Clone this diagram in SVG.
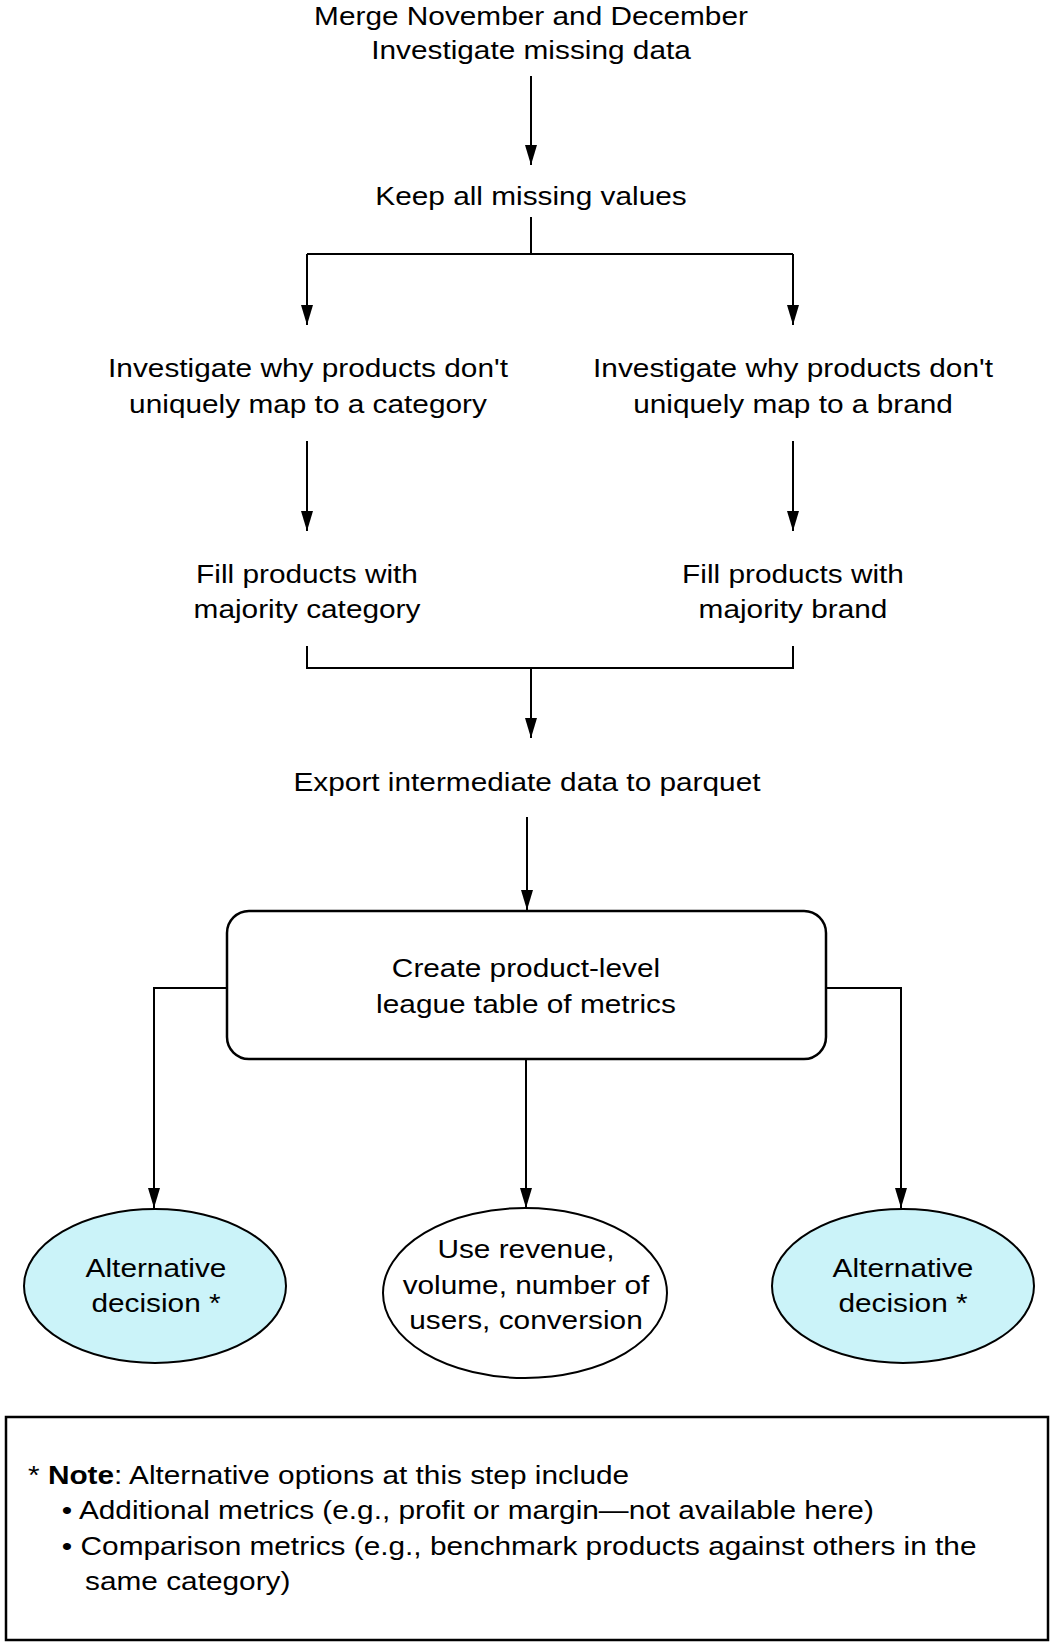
<svg xmlns="http://www.w3.org/2000/svg" width="1054" height="1646" viewBox="0 0 1054 1646">
<defs>
<style>
.t{font-family:"Liberation Sans",Arial,Helvetica,sans-serif;font-size:26.5px;fill:#000;text-anchor:middle}
.n{font-family:"Liberation Sans",Arial,Helvetica,sans-serif;font-size:26.5px;fill:#000;text-anchor:start}
.c{fill:none;stroke:#000;stroke-width:2}
.alt{fill:#CBF3F9;stroke:#000;stroke-width:2}
.plain{fill:#fff;stroke:#000;stroke-width:2}
</style>
<marker id="ah" markerUnits="userSpaceOnUse" markerWidth="20" markerHeight="12" refX="20" refY="6" orient="auto">
<path d="M0,0 L20,6 L0,12 z" fill="#000"/>
</marker>
</defs>
<rect width="1054" height="1646" fill="#fff"/>

<g id="connectors">
<path class="c" d="M531,76 V165" marker-end="url(#ah)"/>
<path class="c" d="M531,217 V254"/>
<path class="c" d="M307,254 H793"/>
<path class="c" d="M307,254 V325" marker-end="url(#ah)"/>
<path class="c" d="M793,254 V325" marker-end="url(#ah)"/>
<path class="c" d="M307,441 V531" marker-end="url(#ah)"/>
<path class="c" d="M793,441 V531" marker-end="url(#ah)"/>
<path class="c" d="M307,646 V668 H793 V646"/>
<path class="c" d="M531,668 V738" marker-end="url(#ah)"/>
<path class="c" d="M527,817 V910" marker-end="url(#ah)"/>
<path class="c" d="M227,988 H154 V1208" marker-end="url(#ah)"/>
<path class="c" d="M526,1059 V1208" marker-end="url(#ah)"/>
<path class="c" d="M826,988 H901 V1208" marker-end="url(#ah)"/>
</g>

<g id="merge">
<text class="t" transform="translate(531 0) scale(1.125 1)"><tspan x="0" y="25">Merge November and December</tspan><tspan x="0" y="59">Investigate missing data</tspan></text>
</g>

<g id="keep">
<text class="t" transform="translate(531 0) scale(1.125 1)" x="0" y="205">Keep all missing values</text>
</g>

<g id="inv-category">
<text class="t" transform="translate(308 0) scale(1.125 1)"><tspan x="0" y="377">Investigate why products don't</tspan><tspan x="0" y="413">uniquely map to a category</tspan></text>
</g>

<g id="inv-brand">
<text class="t" transform="translate(793 0) scale(1.125 1)"><tspan x="0" y="377">Investigate why products don't</tspan><tspan x="0" y="413">uniquely map to a brand</tspan></text>
</g>

<g id="fill-category">
<text class="t" transform="translate(307 0) scale(1.125 1)"><tspan x="0" y="583">Fill products with</tspan><tspan x="0" y="618">majority category</tspan></text>
</g>

<g id="fill-brand">
<text class="t" transform="translate(793 0) scale(1.125 1)"><tspan x="0" y="583">Fill products with</tspan><tspan x="0" y="618">majority brand</tspan></text>
</g>

<g id="export">
<text class="t" transform="translate(527 0) scale(1.125 1)" x="0" y="791">Export intermediate data to parquet</text>
</g>

<g id="league">
<rect x="227" y="911" width="599" height="148" rx="22" ry="22" fill="#fff" stroke="#000" stroke-width="2.5"/>
<text class="t" transform="translate(526 0) scale(1.125 1)"><tspan x="0" y="977">Create product-level</tspan><tspan x="0" y="1013">league table of metrics</tspan></text>
</g>

<g id="alt-left">
<ellipse class="alt" cx="155" cy="1286" rx="131" ry="77"/>
<text class="t" transform="translate(156 0) scale(1.125 1)"><tspan x="0" y="1277">Alternative</tspan><tspan x="0" y="1312">decision *</tspan></text>
</g>

<g id="use-metrics">
<ellipse class="plain" cx="525" cy="1293" rx="142" ry="85"/>
<text class="t" transform="translate(526 0) scale(1.125 1)"><tspan x="0" y="1258">Use revenue,</tspan><tspan x="0" y="1294">volume, number of</tspan><tspan x="0" y="1329">users, conversion</tspan></text>
</g>

<g id="alt-right">
<ellipse class="alt" cx="903" cy="1286" rx="131" ry="77"/>
<text class="t" transform="translate(903 0) scale(1.125 1)"><tspan x="0" y="1277">Alternative</tspan><tspan x="0" y="1312">decision *</tspan></text>
</g>

<g id="note">
<rect x="6" y="1417" width="1042" height="223" fill="#fff" stroke="#000" stroke-width="2.5"/>
<text class="n" transform="scale(1.125 1)"><tspan x="24.9" y="1484">* <tspan font-weight="bold">Note</tspan>: Alternative options at this step include</tspan><tspan x="55" y="1519">• Additional metrics (e.g., profit or margin—not available here)</tspan><tspan x="55" y="1555">• Comparison metrics (e.g., benchmark products against others in the</tspan><tspan x="75.6" y="1590">same category)</tspan></text>
</g>
</svg>
